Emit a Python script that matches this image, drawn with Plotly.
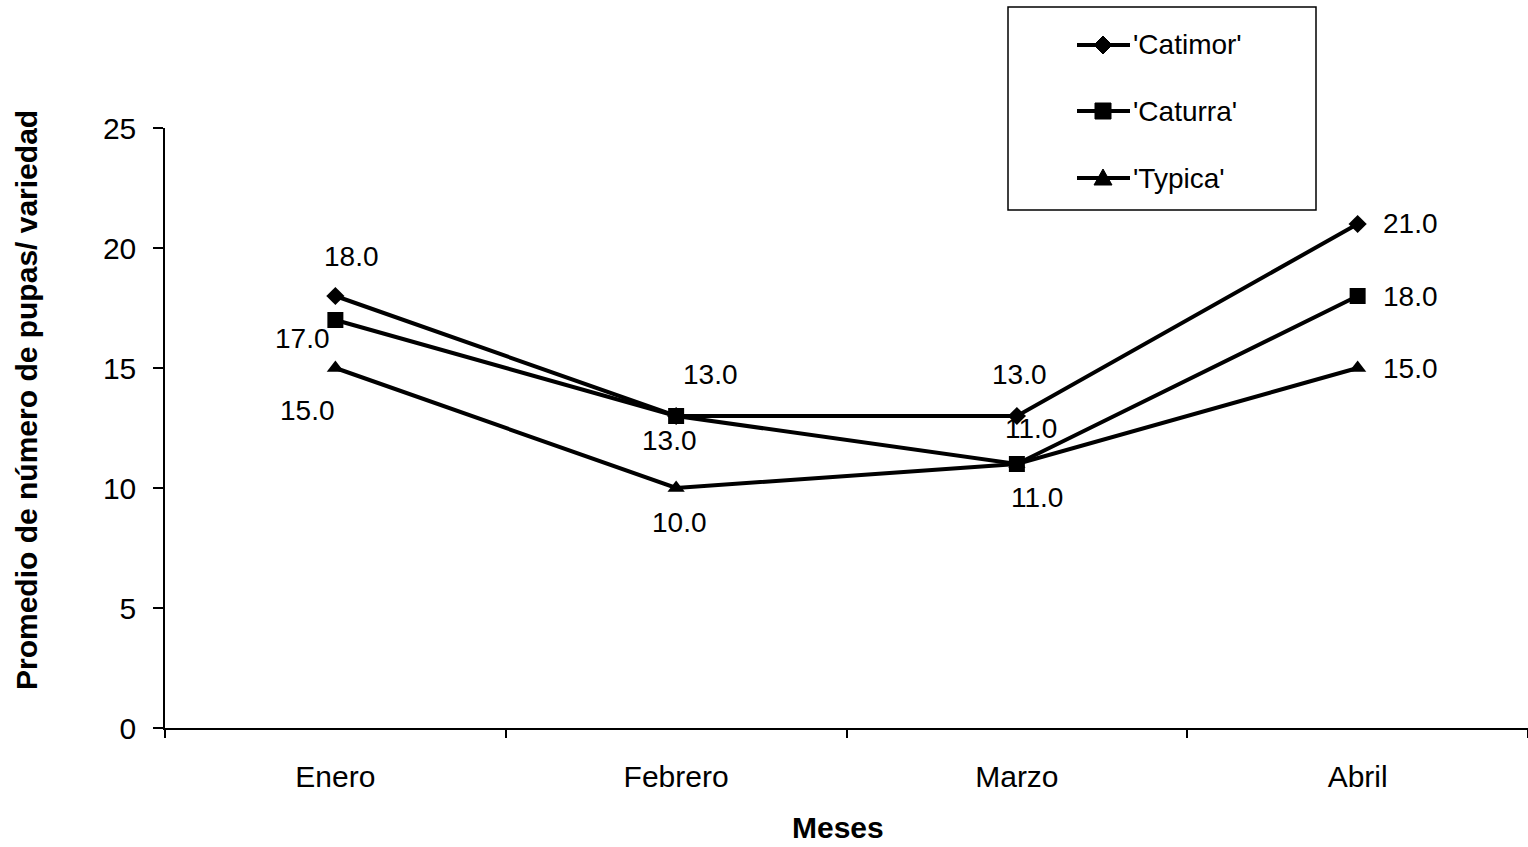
import plotly.graph_objects as go

# Monthly average pupae per coffee variety
meses = ["Enero", "Febrero", "Marzo", "Abril"]
catimor = [18.0, 13.0, 13.0, 21.0]
caturra = [17.0, 13.0, 11.0, 18.0]
typica = [15.0, 10.0, 11.0, 15.0]

series = [
    ("'Catimor'", catimor, "diamond", 14),
    ("'Caturra'", caturra, "square", 16),
    ("'Typica'", typica, "triangle-up", 15),
]

# value-label offsets (px) for each series/point
offsets = {
    "'Catimor'": [(16, 40), (34, 42), (3, 42), (53, 1)],
    "'Caturra'": [(-33, -18), (-7, -24), (14, 36), (53, 0)],
    "'Typica'": [(-28, -42), (3, -34), (20, -33), (53, 0)],
}

FONT = "Arial, Liberation Sans, sans-serif"
W, H = 1528, 847
L, R, T, B = 165, 0, 128, 119
pw, ph = W - L - R, H - T - B


def px_x(px):
    return (px - L) / pw


def px_y(py):
    return (H - B - py) / ph


fig = go.Figure()
for name, vals, sym, sz in series:
    fig.add_trace(go.Scatter(
        x=meses, y=vals, name=name, mode="lines+markers",
        line=dict(color="black", width=4),
        marker=dict(symbol=sym, size=sz, color="black"),
        showlegend=False,
    ))

annotations = []
for name, vals, _, _ in series:
    for m, v, (dx, dy) in zip(meses, vals, offsets[name]):
        annotations.append(dict(
            x=m, y=v, xref="x", yref="y", text=f"{v:.1f}", showarrow=False,
            xshift=dx, yshift=dy, font=dict(size=28, color="black", family=FONT),
        ))

# axis titles
annotations.append(dict(
    x=px_x(838), y=px_y(827), xref="paper", yref="paper",
    xanchor="center", yanchor="middle",
    text="<b>Meses</b>", showarrow=False, font=dict(size=30, color="black", family=FONT),
))
annotations.append(dict(
    x=px_x(26), y=px_y(400), xref="paper", yref="paper",
    xanchor="center", yanchor="middle",
    text="<b>Promedio de número de pupas/ variedad</b>", textangle=-90, showarrow=False,
    font=dict(size=30, color="black", family=FONT),
))

# legend: frame, line samples, marker glyphs and names
shapes = [dict(
    type="rect", xref="paper", yref="paper",
    x0=px_x(1008), x1=px_x(1316), y0=px_y(210), y1=px_y(7),
    line=dict(color="black", width=1.5), fillcolor="white", layer="below",
)]
legend_rows = [45, 111, 178]
glyphs = {
    "diamond": "M -9 0 L 0 9 L 9 0 L 0 -9 Z",
    "square": "M -8 -8 L 8 -8 L 8 8 L -8 8 Z",
    "triangle-up": "M -9 -7 L 9 -7 L 0 9 Z",
}
for (name, _, sym, _), ry in zip(series, legend_rows):
    shapes.append(dict(
        type="line", xref="paper", yref="paper",
        x0=px_x(1077), x1=px_x(1130), y0=px_y(ry), y1=px_y(ry),
        line=dict(color="black", width=4),
    ))
    shapes.append(dict(
        type="path", xref="paper", yref="paper",
        xsizemode="pixel", ysizemode="pixel",
        xanchor=px_x(1103), yanchor=px_y(ry),
        path=glyphs[sym], fillcolor="black", line=dict(color="black", width=1),
    ))
    annotations.append(dict(
        x=px_x(1131), y=px_y(ry), xref="paper", yref="paper",
        xanchor="left", yanchor="middle", text=name, showarrow=False,
        font=dict(size=28, color="black", family=FONT),
    ))

fig.update_layout(
    width=W, height=H,
    margin=dict(l=L, r=R, t=T, b=B),
    paper_bgcolor="white", plot_bgcolor="white",
    font=dict(family=FONT, size=30, color="black"),
    showlegend=False,
    xaxis=dict(
        type="category", range=[-0.5, 3.5], tickson="boundaries",
        showline=True, linecolor="black", linewidth=1.5,
        ticks="outside", ticklen=8, tickcolor="black", tickwidth=1.5,
        showgrid=False, zeroline=False,
        tickfont=dict(size=30, family=FONT, color="black"),
        ticklabelstandoff=21,
    ),
    yaxis=dict(
        range=[0, 25], tickvals=[0, 5, 10, 15, 20, 25],
        showline=True, linecolor="black", linewidth=1.5,
        ticks="outside", ticklen=10, tickcolor="black", tickwidth=1.5,
        showgrid=False, zeroline=False,
        tickfont=dict(size=30, family=FONT, color="black"),
        ticklabelstandoff=11,
    ),
    annotations=annotations,
    shapes=shapes,
)

fig.write_html("out.html")
